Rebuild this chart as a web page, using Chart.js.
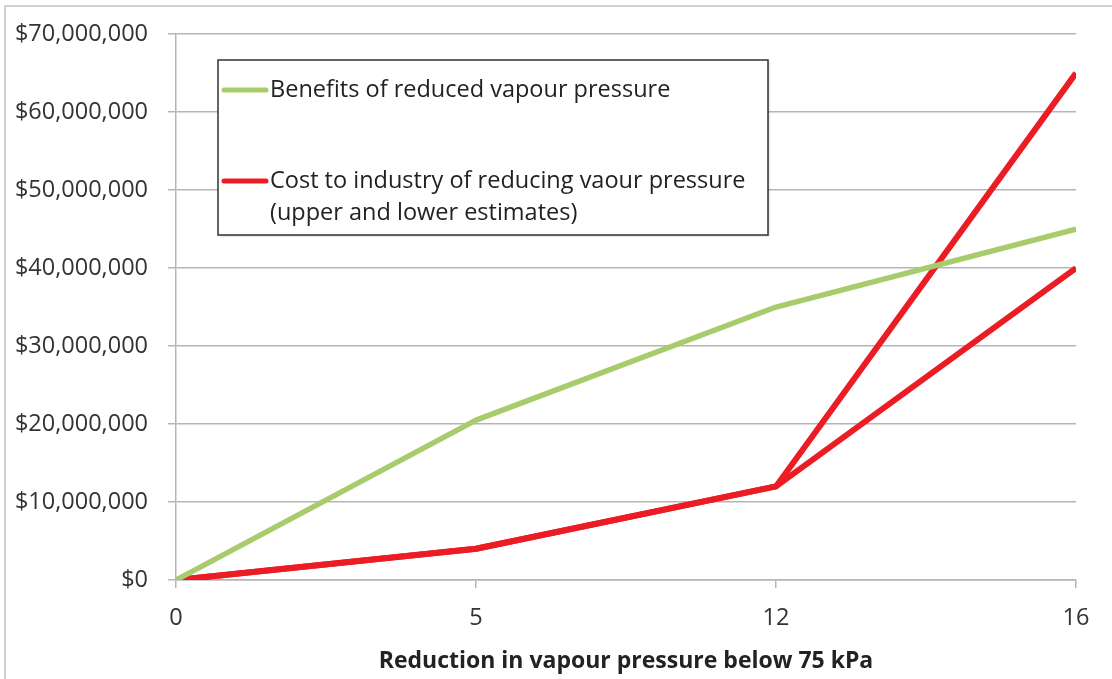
<!DOCTYPE html>
<html>
<head>
<meta charset="utf-8">
<script src="https://cdn.jsdelivr.net/npm/chart.js@4/dist/chart.umd.min.js"></script>
<style>
  html, body { margin: 0; padding: 0; background: #fff; }
  #wrap { width: 1112px; height: 679px; }
</style>
</head>
<body>
<div id="wrap"><canvas id="vapourChart" width="1112" height="679"></canvas></div>
<script>
const categories = ['0', '5', '12', '16'];
const benefits = [0, 20500000, 35000000, 45000000];
const costUpper = [0, 4000000, 12000000, 65000000];
const costLower = [0, 4000000, 12000000, 40000000];
const yTicks = [0, 10000000, 20000000, 30000000, 40000000, 50000000, 60000000, 70000000];
const legendLines = [
    ['Benefits of reduced vapour pressure'],
    ['Cost to industry of reducing vaour pressure', '(upper and lower estimates)']
];
const xTitle = 'Reduction in vapour pressure below 75 kPa';

const green = '#a8cb6c';
const red = '#ec1c24';
const font = '"Open Sans", sans-serif';

// grey frame round the chart, as in the spreadsheet export
const framePlugin = {
    id: 'frame',
    beforeDraw(chart) {
        const ctx = chart.ctx;
        ctx.save();
        ctx.strokeStyle = '#cfcfcf';
        ctx.lineWidth = 2;
        ctx.beginPath();
        ctx.moveTo(5, 700);
        ctx.lineTo(5, 6);
        ctx.lineTo(1120, 6);
        ctx.stroke();
        ctx.restore();
    }
};

// legend box inside the plot area
const boxLegend = {
    id: 'boxLegend',
    afterDraw(chart) {
        const ctx = chart.ctx;
        const x = 218, y = 60, w = 550, h = 175;
        ctx.save();
        ctx.fillStyle = '#fff';
        ctx.shadowColor = 'rgba(0,0,0,0.25)';
        ctx.shadowBlur = 2;
        ctx.shadowOffsetX = 1;
        ctx.shadowOffsetY = 1;
        ctx.fillRect(x, y, w, h);
        ctx.shadowColor = 'transparent';
        ctx.strokeStyle = '#333';
        ctx.lineWidth = 1.5;
        ctx.strokeRect(x, y, w, h);

        const colors = [green, red];
        const rowY = [90, 181];
        ctx.font = '23.5px ' + font;
        ctx.textBaseline = 'middle';
        ctx.fillStyle = '#222';
        ctx.lineCap = 'round';
        legendLines.forEach((lines, i) => {
            ctx.strokeStyle = colors[i];
            ctx.lineWidth = 5;
            ctx.beginPath();
            ctx.moveTo(224, rowY[i]);
            ctx.lineTo(266, rowY[i]);
            ctx.stroke();
            lines.forEach((t, j) => {
                ctx.fillText(t, 270, rowY[i] + j * 32);
            });
        });
        ctx.restore();
    }
};

const ctx = document.getElementById('vapourChart').getContext('2d');
new Chart(ctx, {
    type: 'line',
    data: {
        labels: categories,
        datasets: [
            { label: legendLines[0][0], data: benefits, borderColor: green, borderWidth: 5.5 },
            { label: legendLines[1][0], data: costUpper, borderColor: red, borderWidth: 6 },
            { label: legendLines[1][0], data: costLower, borderColor: red, borderWidth: 6 }
        ]
    },
    options: {
        responsive: false,
        animation: false,
        layout: { padding: { top: 32, right: 36, left: 0, bottom: 0 } },
        elements: {
            point: { radius: 0 },
            line: { tension: 0, borderJoinStyle: 'round', borderCapStyle: 'butt' }
        },
        datasets: { line: { clip: 0 } },
        plugins: {
            legend: { display: false },
            tooltip: { enabled: false }
        },
        scales: {
            x: {
                offset: false,
                afterFit(scale) { scale.height = 99; },
                grid: { drawOnChartArea: false, drawTicks: true, tickLength: 8, color: '#b5b5b5', lineWidth: 1.5 },
                border: { color: '#b5b5b5', width: 1.5 },
                ticks: { color: '#333', font: { family: font, size: 23.5 }, padding: 16, maxRotation: 0 },
                title: {
                    display: true,
                    text: xTitle,
                    color: '#222',
                    font: { family: font, size: 23, weight: 'bold' },
                    padding: { top: 4 }
                }
            },
            y: {
                min: 0,
                max: 70000000,
                afterFit(scale) { scale.width = 176; },
                afterBuildTicks(scale) { scale.ticks = yTicks.map(v => ({ value: v })); },
                grid: { color: '#b5b5b5', lineWidth: 1.5, tickLength: 8 },
                border: { color: '#b5b5b5', width: 1.5 },
                ticks: {
                    color: '#333',
                    font: { family: font, size: 23.5 },
                    padding: 20,
                    callback: v => '$' + v.toLocaleString('en-US')
                }
            }
        }
    },
    plugins: [framePlugin, boxLegend]
});
</script>
</body>
</html>
